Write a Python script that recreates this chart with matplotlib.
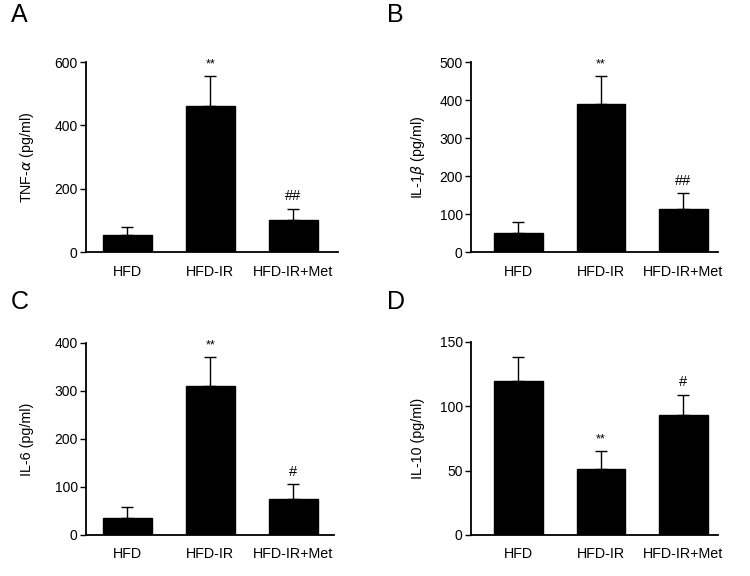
import matplotlib
matplotlib.use("Agg")
import matplotlib.pyplot as plt
import numpy as np

plt.rcParams['font.family'] = ['Liberation Sans', 'DejaVu Sans']

groups = ["HFD", "HFD-IR", "HFD-IR+Met"]

tnf_mean = [55, 461, 101]
tnf_sem = [24, 94, 36]
il1b_mean = [49, 390, 112]
il1b_sem = [30, 72, 43]
il6_mean = [35, 310, 75]
il6_sem = [23, 60, 31]
il10_mean = [120, 51, 93]
il10_sem = [18, 14, 16]

sig_tnf = ["", "**", "##"]
sig_il1b = ["", "**", "##"]
sig_il6 = ["", "**", "#"]
sig_il10 = ["", "**", "#"]

panels = [
    ("A", r"TNF-$\alpha$ (pg/ml)", tnf_mean, tnf_sem, sig_tnf, 600, [0, 200, 400, 600]),
    ("B", r"IL-1$\beta$ (pg/ml)", il1b_mean, il1b_sem, sig_il1b, 500, [0, 100, 200, 300, 400, 500]),
    ("C", "IL-6 (pg/ml)", il6_mean, il6_sem, sig_il6, 400, [0, 100, 200, 300, 400]),
    ("D", "IL-10 (pg/ml)", il10_mean, il10_sem, sig_il10, 150, [0, 50, 100, 150]),
]

W, H = 750, 576
fig = plt.figure(figsize=(7.5, 5.76), dpi=100)

# axes boxes in pixel coords: left, top, right, bottom
boxes = [
    (86, 62, 338, 252),
    (471, 62, 718, 252),
    (86, 343, 334, 535),
    (471, 342, 718, 535),
]
xlims = [(-0.5, 2.54), (-0.575, 2.42), (-0.5, 2.49), (-0.575, 2.42)]
letter_pos = [(11, 27), (387, 27), (11, 314), (387, 314)]
ylabel_x = [27, 418, 27, 418]

x = np.arange(len(groups))
for i, (letter, ylab, mean, sem, sig, ymax, ticks) in enumerate(panels):
    l, t, r, b = boxes[i]
    ax = fig.add_axes([l / W, 1 - b / H, (r - l) / W, (b - t) / H])
    ax.bar(x, mean, width=0.59, color="black", edgecolor="black", zorder=2)
    ax.errorbar(x, mean, yerr=[np.zeros(len(mean)), sem], fmt="none",
                ecolor="black", elinewidth=1.0, capsize=4.5, capthick=1.0, zorder=1)
    ax.set_xlim(*xlims[i])
    ax.set_ylim(0, ymax)
    ax.set_yticks(ticks)
    ax.set_xticks(x)
    ax.set_xticklabels(groups, fontsize=10.3)
    ax.tick_params(axis="x", length=0, pad=9)
    ax.tick_params(axis="y", length=4, width=1.0, labelsize=10, direction="out", pad=2)
    for s in ["top", "right"]:
        ax.spines[s].set_visible(False)
    for s in ["left", "bottom"]:
        ax.spines[s].set_linewidth(1.3)
    for xi, m, e, s in zip(x, mean, sem, sig):
        if s:
            fs = 9 if s == "**" else 10.5
            ax.annotate(s, (xi, m + e), xytext=(0, 4), textcoords="offset points",
                        ha="center", va="bottom", fontsize=fs)
    fig.text(ylabel_x[i] / W, 1 - (t + b) / 2 / H, ylab, rotation=90,
             ha="center", va="center", fontsize=10.3)
    lx, ly = letter_pos[i]
    fig.text(lx / W, 1 - ly / H, letter, fontsize=18, ha="left", va="bottom")

fig.savefig("out.png", dpi=100, facecolor="white")
